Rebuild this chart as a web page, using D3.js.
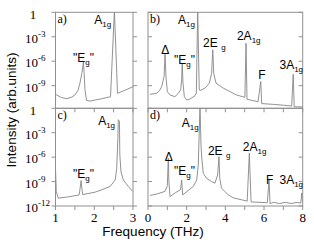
<!DOCTYPE html>
<html lang="en">
<head>
<meta charset="utf-8">
<title>Raman spectra</title>
<script src="https://d3js.org/d3.v7.min.js"></script>
<style>
  body { margin: 0; background: #fff; }
</style>
</head>
<body>
<script>
// frequency (THz) and log10 intensity
const freqA = [1.0, 1.15, 1.29, 1.42, 1.50, 1.58, 1.63, 1.68, 1.72, 1.74, 1.76, 1.80, 1.89, 2.02, 2.2, 2.42, 2.52, 2.60, 2.8, 3.0];
const logA  = [-10.06, -10.45, -10.6, -10.4, -10.15, -9.6, -8.7, -7.5, -6.1, -7.5, -9.5, -10.8, -10.9, -10.76, -10.6, -10.36, 0.2, -9.94, -9.55, -9.13];

const freqB = [0.1, 0.45, 0.62, 0.71, 0.83, 0.88, 0.93, 1.0, 1.14, 1.39, 1.57, 1.69, 1.74, 1.77, 1.81, 1.88, 2.0, 2.17, 2.43, 2.5, 2.57, 2.65,
               2.69, 2.95, 3.17, 3.29, 3.35, 3.40, 3.52, 3.89, 4.58, 5.01, 5.07, 5.12, 5.69, 5.83, 5.88, 6.5, 7.0, 7.43, 7.51, 7.56, 8.0];
const logB  = [-10.06, -9.94, -9.53, -9.1, -7.9, -5.15, -7.9, -9.74, -10.15, -10.35, -9.94, -9.5, -8.3, -6.26, -8.7, -10.35, -10.76, -10.64, -10.23, -9.9, 0.3, -9.53,
               -9.6, -9.3, -8.7, -7.5, -4.6, -7.5, -8.7, -9.3, -10.15, -10.43, -3.8, -10.67, -10.97, -8.5, -11.2, -11.3, -11.4, -11.5, -7.6, -11.6, -11.6];

const freqC = [1.0, 1.02, 1.07, 1.3, 1.61, 1.63, 1.66, 1.68, 1.70, 2.02, 2.2, 2.41, 2.54, 2.58, 2.61, 2.62, 2.65, 2.66, 2.69, 2.75, 2.88, 2.99];
const logC  = [-7.36, -10.2, -11.04, -10.9, -10.64, -10.0, -8.88, -9.8, -10.6, -10.3, -10.0, -9.6, -8.8, -7.4, -3.7, -1.4, -1.6, -5.7, -7.8, -8.8, -9.6, -10.2];

const freqD = [0.1, 0.5, 0.88, 1.0, 1.05, 1.08, 1.14, 1.40, 1.68, 1.74, 1.79, 2.34, 2.52, 2.60, 2.69, 2.74, 2.78, 2.86, 3.03, 3.29, 3.46, 3.6, 3.67, 3.71, 3.80, 4.15,
               4.41, 5.13, 5.24, 5.33, 6.17, 6.26, 6.31, 6.5, 6.8, 7.1, 7.4, 7.7, 7.9, 7.95, 8.0];
const logD  = [-10.7, -10.5, -10.2, -9.5, -6.13, -9.0, -10.85, -10.4, -10.0, -8.8, -10.64, -9.6, -8.8, -6.96, 0.3, -4.5, -6.1, -8.0, -8.6, -9.0, -9.2, -8.2, -5.94, -8.6, -9.8, -10.64,
               -11.0, -11.4, -5.52, -11.5, -11.6, -8.8, -11.7, -11.55, -11.7, -11.55, -11.7, -11.55, -11.65, -10.4, -11.7];

// annotations: text, subscript, trailing text, frequency, log10 intensity of the baseline
const notesA = [["\"E", "g", "\"", 1.45, -6.1], ["A", "1g", "", 2.0, -1.4]];
const notesB = [["A", "1g", "", 1.55, -1.4], ["\u0394", "", "", 0.68, -5.1], ["\"E", "g", "\"", 1.35, -6.4], ["2E ", "g", "", 2.85, -4.3],
                ["2A", "1g", "", 4.6, -3.4], ["F", "", "", 5.7, -8.2], ["3A", "1g", "", 6.8, -7.0]];
const notesC = [["A", "1g", "", 2.1, -2.05], ["\"E", "g", "\"", 1.45, -8.6]];
const notesD = [["A", "1g", "", 1.75, -2.3], ["\u0394", "", "", 0.87, -6.5], ["\"E", "g", "\"", 1.35, -8.2], ["2E ", "g", "", 3.1, -5.7],
                ["2A", "1g", "", 4.9, -5.2], ["F", "", "", 6.1, -9.3], ["3A", "1g", "", 6.8, -9.3]];

const yTicks = [0, -3, -6, -9, -12];

const width = 314, height = 243;
const lineColor = "#868686", frameColor = "#909090";

const svg = d3.select("body").append("svg")
    .attr("width", width).attr("height", height);

const xLeft = d3.scaleLinear().domain([1, 3]).range([55.5, 133]);
const xRight = d3.scaleLinear().domain([0, 8]).range([148, 302.7]);
const yTop = d3.scaleLog().domain([1e-12, 1]).range([110.1, 12.3]);
const yBottom = d3.scaleLog().domain([1e-12, 1]).range([206, 108.3]);

const panels = [
  {id: "a", x: xLeft, y: yTop, f: freqA, v: logA, notes: notesA, left: true, top: true},
  {id: "b", x: xRight, y: yTop, f: freqB, v: logB, notes: notesB, left: false, top: true},
  {id: "c", x: xLeft, y: yBottom, f: freqC, v: logC, notes: notesC, left: true, top: false},
  {id: "d", x: xRight, y: yBottom, f: freqD, v: logD, notes: notesD, left: false, top: false}
];

panels.forEach(p => {
  const [x0, x1] = p.x.range();
  const y0 = p.top ? 12.3 : 108.3;
  const y1 = p.top ? 108.3 : 206;
  const g = svg.append("g");

  g.append("clipPath").attr("id", "clip" + p.id)
    .append("rect").attr("x", x0).attr("y", y0).attr("width", x1 - x0).attr("height", y1 - y0);

  // curve
  const pts = p.f.map((f, i) => [f, Math.pow(10, p.v[i])]);
  g.append("path")
    .datum(pts)
    .attr("clip-path", "url(#clip" + p.id + ")")
    .attr("fill", "none")
    .attr("stroke", lineColor)
    .attr("stroke-width", 0.9)
    .attr("d", d3.line().x(d => p.x(d[0])).y(d => p.y(d[1])));

  // frame
  g.append("rect")
    .attr("x", x0).attr("y", y0).attr("width", x1 - x0).attr("height", y1 - y0)
    .attr("fill", "none").attr("stroke", frameColor).attr("stroke-width", 1);

  // y ticks
  const yt = yTicks.filter(t => p.y(Math.pow(10, t)) <= y1 + 0.5).map(t => Math.pow(10, t));
  const dirL = p.left ? -1 : 1;
  const dirR = p.left ? 1 : -1;
  g.selectAll(".tl").data(yt).join("line")
    .attr("x1", x0).attr("x2", x0 + dirL * 4)
    .attr("y1", d => p.y(d)).attr("y2", d => p.y(d))
    .attr("stroke", frameColor);
  g.selectAll(".tr").data(yt).join("line")
    .attr("x1", x1).attr("x2", x1 + dirR * 4)
    .attr("y1", d => p.y(d)).attr("y2", d => p.y(d))
    .attr("stroke", frameColor);

  // x ticks on top edge of lower panels and bottom edge
  const step = p.left ? 0.5 : 1;
  const xt = d3.range(p.x.domain()[0], p.x.domain()[1] + 0.01, step);
  if (!p.top) {
    g.selectAll(".tt").data(xt).join("line")
      .attr("x1", d => p.x(d)).attr("x2", d => p.x(d))
      .attr("y1", y0).attr("y2", y0 + 4)
      .attr("stroke", frameColor);
    g.selectAll(".tb").data(xt).join("line")
      .attr("x1", d => p.x(d)).attr("x2", d => p.x(d))
      .attr("y1", y1).attr("y2", y1 + 4)
      .attr("stroke", frameColor);
    const labs = p.left ? [1, 2, 3] : [0, 2, 4, 6, 8];
    g.selectAll(".xl").data(labs).join("text")
      .attr("x", d => p.x(d)).attr("y", 222)
      .attr("text-anchor", "middle")
      .attr("font-family", "Liberation Serif")
      .attr("font-size", "13px")
      .text(d => d);
  }

  // y tick labels
  if (p.left) {
    yt.forEach(d => {
      const e = Math.round(Math.log10(d));
      const yy = p.y(d);
      if (e === 0) {
        g.append("text").attr("x", 33).attr("y", yy + 7)
          .attr("text-anchor", "middle")
          .attr("font-family", "Liberation Serif").attr("font-size", "13px")
          .text("1");
      } else {
        const t = g.append("text").attr("x", 25).attr("y", yy + 6)
          .attr("font-family", "Liberation Serif").attr("font-size", "13px");
        t.append("tspan").text("10");
        t.append("tspan").attr("dy", -6).attr("font-size", "9px").text(e);
      }
    });
  }

  // panel letter
  g.append("text")
    .attr("x", x0 + 2).attr("y", y0 + 11)
    .attr("font-family", "Liberation Serif").attr("font-size", "12px")
    .text(p.id + ")");

  // annotations
  p.notes.forEach(n => {
    const t = g.append("text")
      .attr("x", p.x(n[3])).attr("y", p.y(Math.pow(10, n[4])))
      .attr("font-family", "Liberation Sans").attr("font-size", "12px");
    t.append("tspan").text(n[0]);
    if (n[1]) t.append("tspan").attr("dy", 3).attr("font-size", "8px").text(n[1]);
    if (n[2]) t.append("tspan").attr("dy", -3).attr("font-size", "12px").text(n[2]);
  });
});

// axis titles
svg.append("text")
  .attr("transform", "translate(16,110) rotate(-90)")
  .attr("text-anchor", "middle")
  .attr("font-family", "Liberation Sans").attr("font-size", "13.5px")
  .text("Intensity (arb.units)");

svg.append("text")
  .attr("x", 153).attr("y", 236)
  .attr("text-anchor", "middle")
  .attr("font-family", "Liberation Sans").attr("font-size", "13.5px")
  .text("Frequency (THz)");
</script>
</body>
</html>
